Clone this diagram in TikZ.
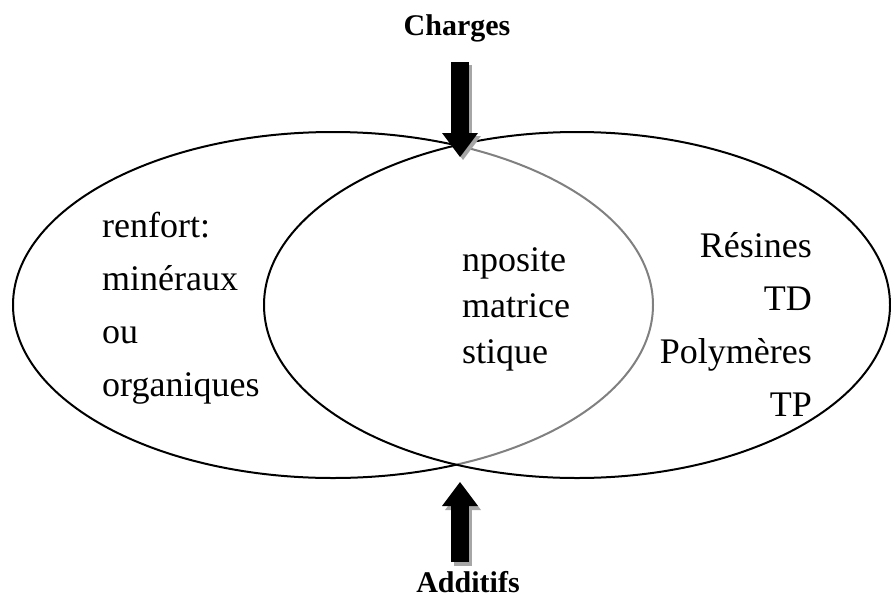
\documentclass[tikz,border=0pt]{standalone}
\usepackage{fontspec}
\setmainfont{Liberation Serif}
\usetikzlibrary{shapes.geometric,arrows.meta,positioning}

\begin{document}
\begin{tikzpicture}[
    x=1pt, y=-1pt,
    set/.style={ellipse, draw, line width=2pt, minimum height=346pt, inner sep=0pt},
    settext/.style={font=\fontsize{36}{53}\selectfont, inner sep=0pt},
    endtext/.style={font=\bfseries\fontsize{30}{36}\selectfont, inner sep=0pt},
    bigarrow/.style={line width=18pt, -{Triangle[length=24pt, width=36pt, line width=0pt]}},
    shadowarrow/.style={bigarrow, black!35}
]
    \useasboundingbox (0,0) rectangle (891,600);

    % Sets
    \node[set, minimum width=640pt] (reinforcement) at (333,305) {};
    \node[set, minimum width=626pt, fill=white, fill opacity=0.5] (matrix) at (577,305) {};

    % Texts
    \node[settext, anchor=north west, align=left] (reinftext) at (102,212) {renfort:\\minéraux\\ou\\organiques};
    \node[settext, anchor=north east, align=right] (matrixtext) at (812,232) {Résines\\TD\\Polymères\\TP};
    \node[settext, anchor=north west, align=left, font=\fontsize{36}{46}\selectfont] (composite) at (462,247) {nposite\\matrice\\stique};
    \node[endtext] (charges) at (457,28) {Charges};
    \node[endtext, anchor=base] (additifs) at (468,592) {Additifs};

    % Arrows
    \coordinate (topX) at (460,157);
    \coordinate (botX) at (460,482);
    \draw[shadowarrow] ([shift={(3,3)}]topX |- 0,62) -- ([shift={(3,3)}]topX);
    \draw[bigarrow] (topX |- 0,62) -- (topX);
    \draw[shadowarrow] ([shift={(3,4)}]botX |- 0,562) -- ([shift={(3,4)}]botX);
    \draw[bigarrow] (botX |- 0,562) -- (botX);
\end{tikzpicture}
\end{document}
